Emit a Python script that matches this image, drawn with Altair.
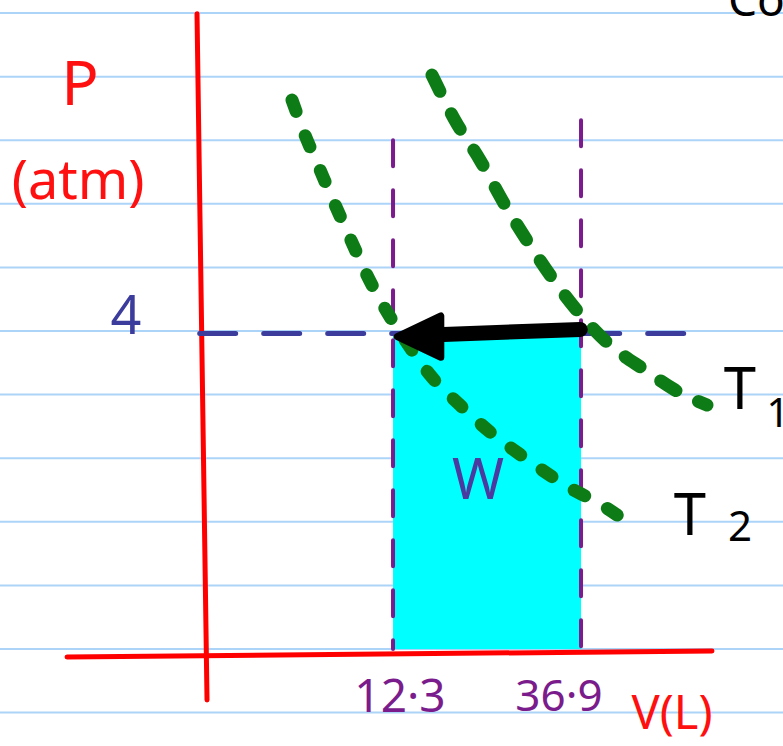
import altair as alt
import pandas as pd

# Scale domains: volume V in litres (x), pressure P in atm (y)
V_DOMAIN = [-39.13, 63.33]
P_DOMAIN = [-1.22, 8.164]

# Notebook ruled lines (pressure values where the paper's lines fall)
ruled_p = [-0.8, 0.0, 0.8, 1.6, 2.4, 3.2, 4.0, 4.8, 5.6, 6.4, 7.2, 8.0]

# Isobaric compression at 4 atm from 36.9 L to 12.3 L
V_START, V_END = 36.9, 12.3
P_CONST = 4.0

# Isotherm T1 (hotter, upper right)
t1_v = [17.40, 20.41, 23.68, 26.95, 30.22, 33.50, 36.77, 40.69, 45.27, 49.20, 53.38]
t1_p = [7.22, 6.65, 6.15, 5.585, 5.08, 4.616, 4.214, 3.824, 3.509, 3.258, 3.069]

# Isotherm T2 (cooler, lower left)
t2_v = [-0.92, 0.78, 2.48, 4.44, 6.67, 8.89, 10.99, 13.87, 17.14, 21.06, 24.99, 29.57, 34.80, 40.04, 43.31]
t2_p = [6.906, 6.465, 6.088, 5.648, 5.170, 4.704, 4.327, 3.887, 3.447, 3.069, 2.730, 2.403, 2.063, 1.786, 1.572]

# Hand-drawn axes (start/end points)
yaxis_v = [-13.35, -12.04]
yaxis_p = [7.99, -0.64]
xaxis_v = [-30.36, 54.04]
xaxis_p = [-0.10, -0.025]

# Guide line for P = 4 atm
guide_v = [-13.0, 52.47]

# Dashed drop lines at the two volumes
drop_v = [V_END, V_START]
drop_top = [6.40, 6.65]

# Text annotations
label_text = ["P", "(atm)", "4", "12·3", "36·9", "V(L)", "W", "T", "1", "T", "2"]
label_v = [-28.66, -28.92, -22.64, 13.21, 34.02, 48.81, 23.42, 57.70, 62.67, 51.16, 57.70]
label_p = [7.08, 5.86, 4.16, -0.616, -0.616, -0.83, 2.10, 3.23, 2.94, 1.648, 1.52]
label_color = ["#ff1010", "#ff1010", "#3c3c9c", "#7b1c8c", "#7b1c8c", "#ff1010",
               "#4b3a9f", "#000000", "#000000", "#000000", "#000000"]
label_size = [62, 54, 54, 46, 44, 47, 56, 58, 40, 58, 42]

RED = "#ff0000"
GREEN = "#0e7c16"
NAVY = "#3c3c9c"
PURPLE = "#7b1c8c"

xs = alt.Scale(domain=V_DOMAIN, nice=False, zero=False)
ys = alt.Scale(domain=P_DOMAIN, nice=False, zero=False)


def X(field="v"):
    return alt.X(f"{field}:Q", scale=xs, axis=None)


def Y(field="p"):
    return alt.Y(f"{field}:Q", scale=ys, axis=None)


# Paper lines
ruled = alt.Chart(pd.DataFrame({"p": ruled_p, "v0": V_DOMAIN[0], "v1": V_DOMAIN[1]})).mark_rule(
    color="#acd4f8", strokeWidth=2
).encode(x=X("v0"), x2="v1", y=Y())

# Work area under the isobar
work = alt.Chart(pd.DataFrame({"v0": [V_END], "v1": [V_START], "p0": [0.0], "p1": [P_CONST]})).mark_rect(
    color="#00ffff"
).encode(x=X("v0"), x2="v1", y=Y("p0"), y2="p1")

# Red axes
axes = alt.Chart(pd.DataFrame({
    "v0": [yaxis_v[0], xaxis_v[0]], "v1": [yaxis_v[1], xaxis_v[1]],
    "p0": [yaxis_p[0], xaxis_p[0]], "p1": [yaxis_p[1], xaxis_p[1]],
})).mark_rule(color=RED, strokeWidth=5, strokeCap="round").encode(
    x=X("v0"), x2="v1", y=Y("p0"), y2="p1"
)

# Dashed guide at P = 4
guide = alt.Chart(pd.DataFrame({"v0": [guide_v[0]], "v1": [guide_v[1]], "p": [P_CONST - 0.03]})).mark_rule(
    color=NAVY, strokeWidth=5, strokeDash=[36, 28], strokeCap="round"
).encode(x=X("v0"), x2="v1", y=Y())

# Purple dashed drop lines
drops = alt.Chart(pd.DataFrame({"v": drop_v, "p0": [0.0, 0.0], "p1": drop_top})).mark_rule(
    color=PURPLE, strokeWidth=4, strokeDash=[26, 24], strokeCap="round"
).encode(x=X(), y=Y("p1"), y2="p0")

# Isotherms
iso1 = alt.Chart(pd.DataFrame({"v": t1_v, "p": t1_p, "i": range(len(t1_v))})).mark_line(
    color=GREEN, strokeWidth=13, strokeDash=[18, 25], strokeCap="round", interpolate="monotone"
).encode(x=X(), y=Y(), order="i:Q")

iso2 = alt.Chart(pd.DataFrame({"v": t2_v, "p": t2_p, "i": range(len(t2_v))})).mark_line(
    color=GREEN, strokeWidth=13, strokeDash=[12, 26], strokeCap="round", interpolate="monotone"
).encode(x=X(), y=Y(), order="i:Q")

# Compression arrow: shaft and head
shaft = alt.Chart(pd.DataFrame({"v0": [V_START - 0.1], "v1": [17.14], "p0": [P_CONST + 0.02], "p1": [P_CONST - 0.05]})).mark_rule(
    color="black", strokeWidth=15, strokeCap="round"
).encode(x=X("v0"), x2="v1", y=Y("p0"), y2="p1")

head = alt.Chart(pd.DataFrame({"v": [15.7], "p": [P_CONST - 0.07]})).mark_point(
    shape="M-1,0L1,-0.95L1,0.95Z", size=1900, filled=True, color="black",
    stroke="black", strokeWidth=7, strokeJoin="round", opacity=1
).encode(x=X(), y=Y())

# Labels
labels = alt.Chart(pd.DataFrame({
    "text": label_text, "v": label_v, "p": label_p,
    "color": label_color, "size": label_size,
})).mark_text(font="Noto Sans", align="center", baseline="middle").encode(
    x=X(), y=Y(), text="text:N",
    color=alt.Color("color:N", scale=None),
    size=alt.Size("size:Q", scale=None),
)

# Heading text running off the top edge
heading = alt.Chart(pd.DataFrame({"text": ["Co"], "v": [56.13], "p": [7.96]})).mark_text(
    font="Noto Sans", align="left", baseline="alphabetic", fontSize=46, color="black"
).encode(x=X(), y=Y(), text="text:N")

chart = alt.layer(
    ruled, work, axes, guide, drops, iso2, iso1, shaft, head, labels, heading
).properties(
    width=783, height=746, padding=0, autosize=alt.AutoSizeParams(type="none"),
    background="white"
).configure_view(stroke=None)

chart.save("out.html", embed_options={"renderer": "svg", "actions": False})
